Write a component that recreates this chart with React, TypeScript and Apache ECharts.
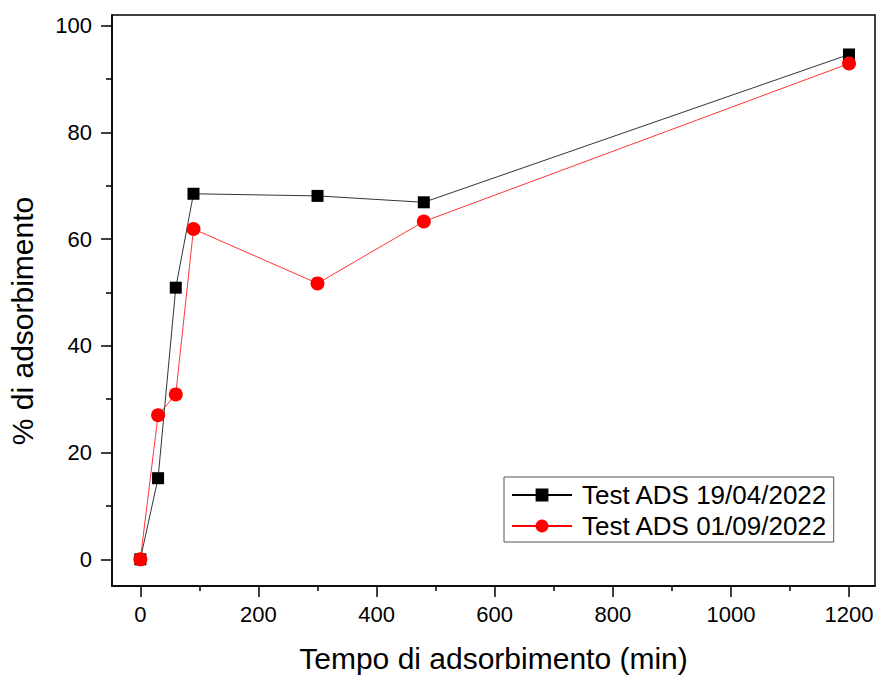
import React, { useEffect, useRef } from "react";
import * as echarts from "echarts";

const timesMin = [0, 30, 60, 90, 300, 480, 1200];
const seriesNames = ["Test ADS 19/04/2022", "Test ADS 01/09/2022"];
const adsApril = [0, 15.2, 50.9, 68.5, 68.1, 66.9, 94.6];
const adsSeptember = [0, 27, 30.9, 61.9, 51.7, 63.3, 92.9];
const xMajorTicks = [0, 200, 400, 600, 800, 1000, 1200];
const xMinorTicks = [100, 300, 500, 700, 900, 1100];
const yMajorTicks = [0, 20, 40, 60, 80, 100];
const yMinorTicks = [10, 30, 50, 70, 90];
const xTitle = "Tempo di adsorbimento (min)";
const yTitle = "% di adsorbimento";

const FONT = "'Liberation Sans', Arial, sans-serif";

export default function App() {
  const ref = useRef<HTMLDivElement>(null);
  useEffect(() => {
    if (!ref.current) return;
    const chart = echarts.init(ref.current, null, { renderer: "svg" });
    const xRange = { min: -48, max: 1244 };
    const yRange = { min: -5, max: 102 };
    const axisCommon = {
      type: "value" as const,
      splitLine: { show: false },
    };
    const plain = (v: number) => String(v);
    chart.setOption({
      animation: false,
      backgroundColor: "#fff",
      textStyle: { fontFamily: FONT },
      grid: {
        left: 112,
        right: 4,
        top: 15,
        bottom: 89,
        containLabel: false,
        outerBoundsMode: "none",
        show: true,
        borderColor: "#000",
        borderWidth: 1.5,
        backgroundColor: "transparent",
      },
      xAxis: [
        {
          ...axisCommon,
          ...xRange,
          position: "bottom",
          name: xTitle,
          nameLocation: "middle",
          nameGap: 57,
          nameTextStyle: { fontSize: 30, color: "#000", fontFamily: FONT },
          axisLine: { show: true, onZero: false, lineStyle: { color: "#000", width: 1.5 } },
          axisTick: {
            show: true,
            inside: false,
            length: 11,
            lineStyle: { color: "#000", width: 1.5 },
            customValues: xMajorTicks,
          },
          axisLabel: {
            show: true,
            fontSize: 22,
            color: "#000",
            margin: 17,
            fontFamily: FONT,
            formatter: plain,
            customValues: xMajorTicks,
          },
        },
        {
          ...axisCommon,
          ...xRange,
          position: "bottom",
          axisLine: { show: false, onZero: false },
          axisLabel: { show: false },
          axisTick: {
            show: true,
            inside: false,
            length: 5,
            lineStyle: { color: "#000", width: 1.5 },
            customValues: xMinorTicks,
          },
        },
      ],
      yAxis: [
        {
          ...axisCommon,
          ...yRange,
          position: "left",
          axisLine: { show: true, onZero: false, lineStyle: { color: "#000", width: 1.5 } },
          axisTick: {
            show: true,
            inside: false,
            length: 11,
            lineStyle: { color: "#000", width: 1.5 },
            customValues: yMajorTicks,
          },
          axisLabel: {
            show: true,
            fontSize: 22,
            color: "#000",
            margin: 20,
            fontFamily: FONT,
            formatter: plain,
            customValues: yMajorTicks,
          },
        },
        {
          ...axisCommon,
          ...yRange,
          position: "left",
          axisLine: { show: false, onZero: false },
          axisLabel: { show: false },
          axisTick: {
            show: true,
            inside: false,
            length: 6,
            lineStyle: { color: "#000", width: 1.5 },
            customValues: yMinorTicks,
          },
        },
      ],
      graphic: [
        {
          type: "text",
          x: 22,
          y: 321,
          rotation: Math.PI / 2,
          style: {
            text: yTitle,
            fontSize: 30,
            fontFamily: FONT,
            fill: "#000",
            textAlign: "center",
            textVerticalAlign: "middle",
          },
        },
      ],
      legend: {
        orient: "vertical",
        left: 504,
        top: 477,
        borderColor: "#555",
        borderWidth: 1,
        padding: [5, 6, 3, 7],
        itemGap: 5,
        itemWidth: 60,
        itemHeight: 16,
        textStyle: { fontSize: 26, color: "#000", fontFamily: FONT, padding: [0, 0, 0, 5] },
        data: seriesNames,
      },
      series: [
        {
          name: seriesNames[0],
          type: "line",
          xAxisIndex: 0,
          yAxisIndex: 0,
          data: timesMin.map((t, i) => [t, adsApril[i]]),
          symbol: "rect",
          symbolSize: 12,
          itemStyle: { color: "#000" },
          lineStyle: { color: "#000", width: 0.8 },
        },
        {
          name: seriesNames[1],
          type: "line",
          xAxisIndex: 0,
          yAxisIndex: 0,
          data: timesMin.map((t, i) => [t, adsSeptember[i]]),
          symbol: "circle",
          symbolSize: 14,
          itemStyle: { color: "#ff0000" },
          lineStyle: { color: "#ff0000", width: 0.8 },
        },
      ],
    });
    return () => chart.dispose();
  }, []);
  return (
    <div
      ref={ref}
      style={{ position: "fixed", left: 0, top: 0, width: 879, height: 675, background: "#fff" }}
    />
  );
}
